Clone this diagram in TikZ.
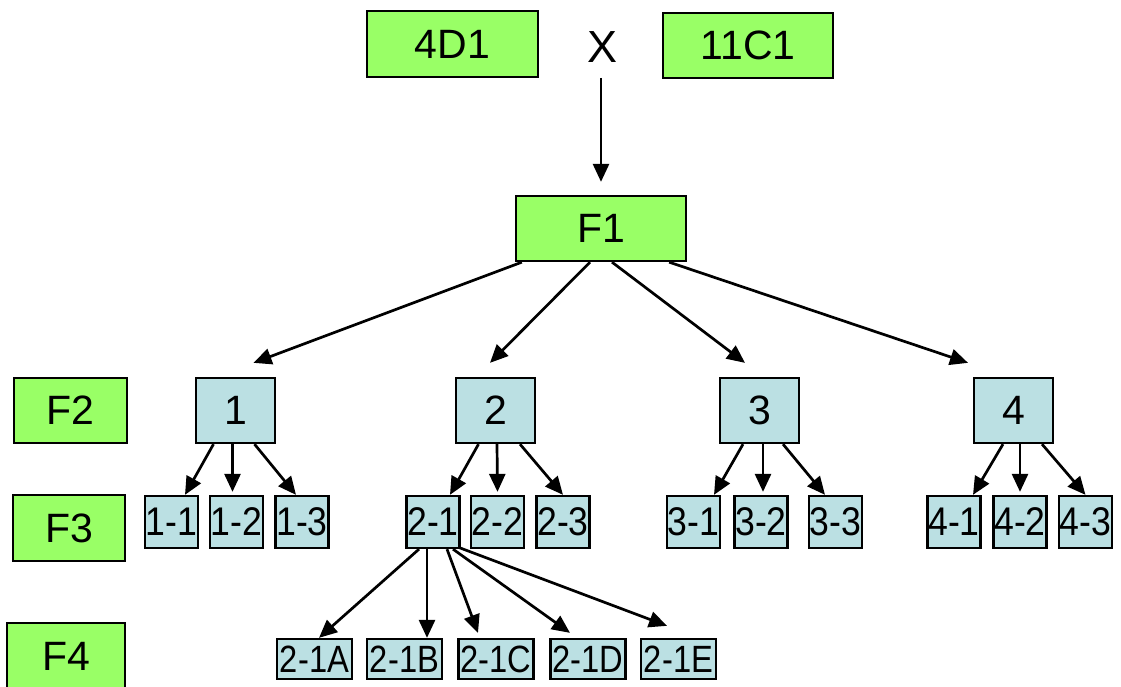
\documentclass[tikz,border=0pt]{standalone}
\usepackage{fontspec}
\usepackage{graphicx}
\setmainfont{Liberation Sans}
\usetikzlibrary{arrows.meta,calc}
\definecolor{gbox}{HTML}{99FF66}
\definecolor{bbox}{HTML}{BBE0E3}
\newcommand{\cndA}[1]{\scalebox{0.89}[1]{#1}}
\newcommand{\cndB}[1]{\scalebox{0.86}[1]{#1}}
\begin{document}
\begin{tikzpicture}[x=1pt,y=-1pt,
  base/.style={draw=black,line width=2.3pt,inner sep=0pt,font=\fontsize{41}{48}\selectfont},
  gnode/.style={base,fill=gbox},
  bnode/.style={base,fill=bbox},
  bigbox/.style={minimum width=79pt,minimum height=65pt},
  midbox/.style={minimum width=53pt,minimum height=52pt,font=\fontsize{40}{46}\selectfont},
  smallbox/.style={minimum width=75pt,minimum height=40pt,font=\fontsize{38}{44}\selectfont},
  arr/.style={line width=2.7pt,-{Triangle[length=18pt,width=16pt]}}]
\useasboundingbox (0,0) rectangle (1121,687);

% top
\node[gnode,minimum width=171pt,minimum height=66pt] (p1) at (452.5,44) {4D1};
\node[gnode,minimum width=170pt,minimum height=65pt] (p2) at (748,45.5) {11C1};
\node[inner sep=0pt,font=\fontsize{45}{50}\selectfont] (X) at (602,47) {X};
\node[gnode,minimum width=170pt,minimum height=65pt] (F1) at (601,228.5) {F1};

% level labels
\node[gnode,minimum width=113pt,minimum height=65pt] (F2) at (70.5,410.5) {F2};
\node[gnode,minimum width=112pt,minimum height=66pt] (F3) at (69,528) {F3};
\node[gnode,minimum width=118pt,minimum height=66pt] (F4) at (66,656) {F4};

% level 2
\node[bnode,bigbox] (n1) at (235.5,410.5) {1};
\node[bnode,bigbox] (n2) at (495.5,410.5) {2};
\node[bnode,bigbox] (n3) at (759.5,410.5) {3};
\node[bnode,bigbox] (n4) at (1013.5,410.5) {4};

% level 3
\node[bnode,midbox] (n11) at (171.5,522) {\cndA{1-1}};
\node[bnode,midbox] (n12) at (236.5,522) {\cndA{1-2}};
\node[bnode,midbox] (n13) at (302,522) {\cndA{1-3}};
\node[bnode,midbox] (n21) at (433,522) {\cndA{2-1}};
\node[bnode,midbox] (n22) at (497.5,522) {\cndA{2-2}};
\node[bnode,midbox] (n23) at (563,522) {\cndA{2-3}};
\node[bnode,midbox] (n31) at (693.5,522) {\cndA{3-1}};
\node[bnode,midbox] (n32) at (761,522) {\cndA{3-2}};
\node[bnode,midbox] (n33) at (835.5,522) {\cndA{3-3}};
\node[bnode,midbox] (n41) at (954,522) {\cndA{4-1}};
\node[bnode,midbox] (n42) at (1020,522) {\cndA{4-2}};
\node[bnode,midbox] (n43) at (1085.5,522) {\cndA{4-3}};

% level 4
\node[bnode,smallbox] (nA) at (314.5,659) {\cndB{2-1A}};
\node[bnode,smallbox] (nB) at (404.5,659) {\cndB{2-1B}};
\node[bnode,smallbox] (nC) at (496,659) {\cndB{2-1C}};
\node[bnode,smallbox] (nD) at (588,659) {\cndB{2-1D}};
\node[bnode,smallbox] (nE) at (678.5,659) {\cndB{2-1E}};

% arrows
\draw[arr] ($(X.center)+(-1,31)$) -- ($(F1.north)+(0,-13)$);

\draw[arr] ($(F1.south west)+(7,0)$) -- ($(n1.north)+(18,-14)$);
\draw[arr] ($(F1.south)+(-11,0)$) -- ($(n2.north)+(-5.5,-14)$);
\draw[arr] ($(F1.south)+(11,0)$) -- ($(n3.north)+(-14.5,-14)$);
\draw[arr] ($(F1.south east)+(-18,0)$) -- ($(n4.north)+(-45.5,-14)$);

\draw[arr] ($(n1.south)+(-22,0)$) -- ($(n11.north)+(13.5,0)$);
\draw[arr] ($(n1.south)+(-3,0)$) -- ($(n12.north)+(-4,-3)$);
\draw[arr] ($(n1.south)+(19,0)$) -- ($(n13.north)+(-6,0)$);

\draw[arr] ($(n2.south)+(-17,0)$) -- ($(n21.north)+(17,0)$);
\draw[arr] ($(n2.south)+(1.5,0)$) -- ($(n22.north)+(0,-3)$);
\draw[arr] ($(n2.south)+(24.5,0)$) -- ($(n23.north)+(0,0)$);

\draw[arr] ($(n3.south)+(-16.5,0)$) -- ($(n31.north)+(20.5,0)$);
\draw[arr] ($(n3.south)+(3.5,0)$) -- ($(n32.north)+(2,-3)$);
\draw[arr] ($(n3.south)+(23.5,0)$) -- ($(n33.north)+(-10.5,0)$);

\draw[arr] ($(n4.south)+(-10.5,0)$) -- ($(n41.north)+(19,0)$);
\draw[arr] ($(n4.south)+(6.5,0)$) -- ($(n42.north)+(0,-3)$);
\draw[arr] ($(n4.south)+(28.5,0)$) -- ($(n43.north)+(0,0)$);

\draw[arr] ($(n21.south)+(-14,0)$) -- ($(nA.north)+(4.5,0)$);
\draw[arr] ($(n21.south)+(-6,0)$) -- ($(nB.north)+(22.5,0)$);
\draw[arr] ($(n21.south)+(14,0)$) -- ($(nC.north)+(-18,-5)$);
\draw[arr] ($(n21.south)+(20,0)$) -- ($(nD.north)+(-18,-5)$);
\draw[arr] ($(n21.south)+(25,-2)$) -- ($(nE.north)+(-11.5,-12)$);
\end{tikzpicture}
\end{document}
